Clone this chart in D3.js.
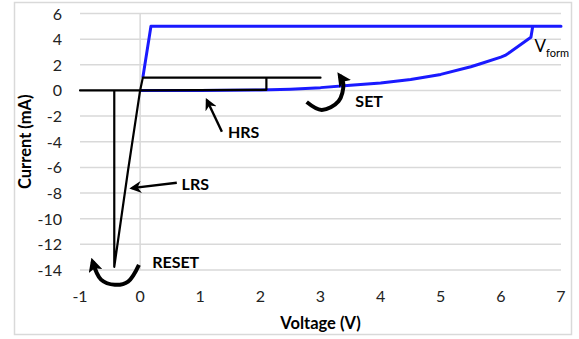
<!DOCTYPE html>
<html>
<head>
<meta charset="utf-8">
<script src="https://cdn.jsdelivr.net/npm/d3@7"></script>
<style>
  body { margin: 0; background: #fff; }
  text { font-family: Lato, "Open Sans", sans-serif; fill: #000; }
</style>
</head>
<body>
<svg id="chart" width="579" height="339"></svg>
<script>
// forming sweep (blue), voltage in V, current in mA
const formV = [0, 1, 2, 2.5, 3, 3.5, 4, 4.5, 5, 5.5, 5.66, 6.0, 6.07, 6.12, 6.5, 6.53, 7, 0.18, 0.045];
const formI = [0, 0, 0.03, 0.1, 0.22, 0.4, 0.58, 0.85, 1.25, 1.85, 2.08, 2.6, 2.73, 2.88, 4.15, 5, 5, 5, 1];

// set/reset cycle (black)
const cycleV = [0, 2.1, 2.1, 3.0, 0.045, 0, -0.2, -0.43, -0.43, -1, 0];
const cycleI = [0, 0.05, 1, 1, 1, 0, -6.2, -13.75, 0, 0, 0];

const xTicks = [-1, 0, 1, 2, 3, 4, 5, 6, 7];
const yTicks = [-14, -12, -10, -8, -6, -4, -2, 0, 2, 4, 6];

const svg = d3.select('#chart');

// outer frame
svg.append('rect')
  .attr('x', 14.5).attr('y', 2.5)
  .attr('width', 557).attr('height', 332)
  .attr('fill', '#fff')
  .attr('stroke', '#d9d9d9')
  .attr('stroke-width', 1.5);

const x = d3.scaleLinear().domain([-1, 7]).range([80, 561]);
const y = d3.scaleLinear().domain([-14, 6]).range([270, 13.5]);

// horizontal gridlines
svg.append('g')
  .selectAll('line')
  .data(yTicks)
  .enter()
  .append('line')
  .attr('x1', x(-1)).attr('x2', x(7))
  .attr('y1', d => y(d)).attr('y2', d => y(d))
  .attr('stroke', '#d9d9d9')
  .attr('stroke-width', 1.5);

// vertical axis line sits at V = 0
svg.append('line')
  .attr('x1', x(0)).attr('x2', x(0))
  .attr('y1', y(6)).attr('y2', y(-14))
  .attr('stroke', '#d9d9d9')
  .attr('stroke-width', 1.5);

// tick labels
svg.append('g')
  .selectAll('text')
  .data(yTicks)
  .enter()
  .append('text')
  .attr('x', 62)
  .attr('y', d => y(d) + 6)
  .attr('text-anchor', 'end')
  .style('font-size', '16px')
  .style('fill', '#222')
  .text(d => d);

svg.append('g')
  .selectAll('text')
  .data(xTicks)
  .enter()
  .append('text')
  .attr('x', d => x(d))
  .attr('y', 302)
  .attr('text-anchor', 'middle')
  .style('font-size', '16px')
  .style('fill', '#222')
  .text(d => d);

// axis titles
svg.append('text')
  .attr('x', x(3))
  .attr('y', 329)
  .attr('text-anchor', 'middle')
  .style('font-size', '16.5px')
  .style('font-weight', 'bold')
  .text('Voltage (V)');

svg.append('text')
  .attr('transform', 'translate(31,' + ((y(6) + y(-14)) / 2) + ') rotate(-90)')
  .attr('text-anchor', 'middle')
  .style('font-size', '16.5px')
  .style('font-weight', 'bold')
  .text('Current (mA)');

// curves
const line = d3.line()
  .x(d => x(d[0]))
  .y(d => y(d[1]));

svg.append('path')
  .datum(formV.map((v, i) => [v, formI[i]]))
  .attr('d', line)
  .attr('fill', 'none')
  .attr('stroke', '#1a1aff')
  .attr('stroke-width', 3)
  .attr('stroke-linejoin', 'round');

svg.append('path')
  .datum(cycleV.map((v, i) => [v, cycleI[i]]))
  .attr('d', line)
  .attr('fill', 'none')
  .attr('stroke', '#000')
  .attr('stroke-width', 2.2)
  .attr('stroke-linejoin', 'round');

// arrowheads
const defs = svg.append('defs');
defs.append('marker')
  .attr('id', 'head')
  .attr('viewBox', '0 0 10 10')
  .attr('refX', 8).attr('refY', 5)
  .attr('markerUnits', 'userSpaceOnUse')
  .attr('markerWidth', 12).attr('markerHeight', 12)
  .attr('orient', 'auto')
  .append('path')
  .attr('d', 'M0,0 L10,5 L0,10 L3,5 Z')
  .attr('fill', '#000');

defs.append('marker')
  .attr('id', 'bighead')
  .attr('viewBox', '0 0 10 10')
  .attr('refX', 7).attr('refY', 5)
  .attr('markerUnits', 'userSpaceOnUse')
  .attr('markerWidth', 14).attr('markerHeight', 14)
  .attr('orient', 'auto')
  .append('path')
  .attr('d', 'M0,0 L10,5 L0,10 L2,5 Z')
  .attr('fill', '#000');

// straight arrows (HRS, LRS)
const arrows = [
  {from: [1.36, -3.22], to: [1.11, -0.75]},
  {from: [0.61, -7.2], to: [-0.14, -7.62]}
];
svg.append('g')
  .selectAll('line')
  .data(arrows)
  .enter()
  .append('line')
  .attr('x1', d => x(d.from[0])).attr('y1', d => y(d.from[1]))
  .attr('x2', d => x(d.to[0])).attr('y2', d => y(d.to[1]))
  .attr('stroke', '#000')
  .attr('stroke-width', 2.4)
  .attr('marker-end', 'url(#head)');

// curved arrows (SET, RESET)
const curve = d3.line()
  .x(d => x(d[0]))
  .y(d => y(d[1]))
  .curve(d3.curveCatmullRom);

const setArrow = [[2.77, -0.9], [3.02, -1.52], [3.3, -0.85], [3.38, 0.5], [3.32, 1.15]];
const resetArrow = [[-0.02, -13.6], [-0.2, -14.9], [-0.42, -15.15], [-0.65, -14.75], [-0.79, -13.35]];

svg.append('g')
  .selectAll('path')
  .data([setArrow, resetArrow])
  .enter()
  .append('path')
  .attr('d', curve)
  .attr('fill', 'none')
  .attr('stroke', '#000')
  .attr('stroke-width', 4)
  .attr('marker-end', 'url(#bighead)');

// labels
const labels = [
  {text: 'HRS', v: 1.46, i: -3.72},
  {text: 'LRS', v: 0.69, i: -7.76},
  {text: 'RESET', v: 0.2, i: -13.85},
  {text: 'SET', v: 3.58, i: -1.3}
];
svg.append('g')
  .selectAll('text')
  .data(labels)
  .enter()
  .append('text')
  .attr('x', d => x(d.v))
  .attr('y', d => y(d.i))
  .style('font-size', '16px')
  .style('font-weight', 'bold')
  .text(d => d.text);

const vf = svg.append('text')
  .attr('x', x(6.56))
  .attr('y', y(3.0))
  .style('font-size', '17px');
vf.append('tspan').text('V');
vf.append('tspan')
  .attr('dy', 5)
  .style('font-size', '11px')
  .text('form');
</script>
</body>
</html>
